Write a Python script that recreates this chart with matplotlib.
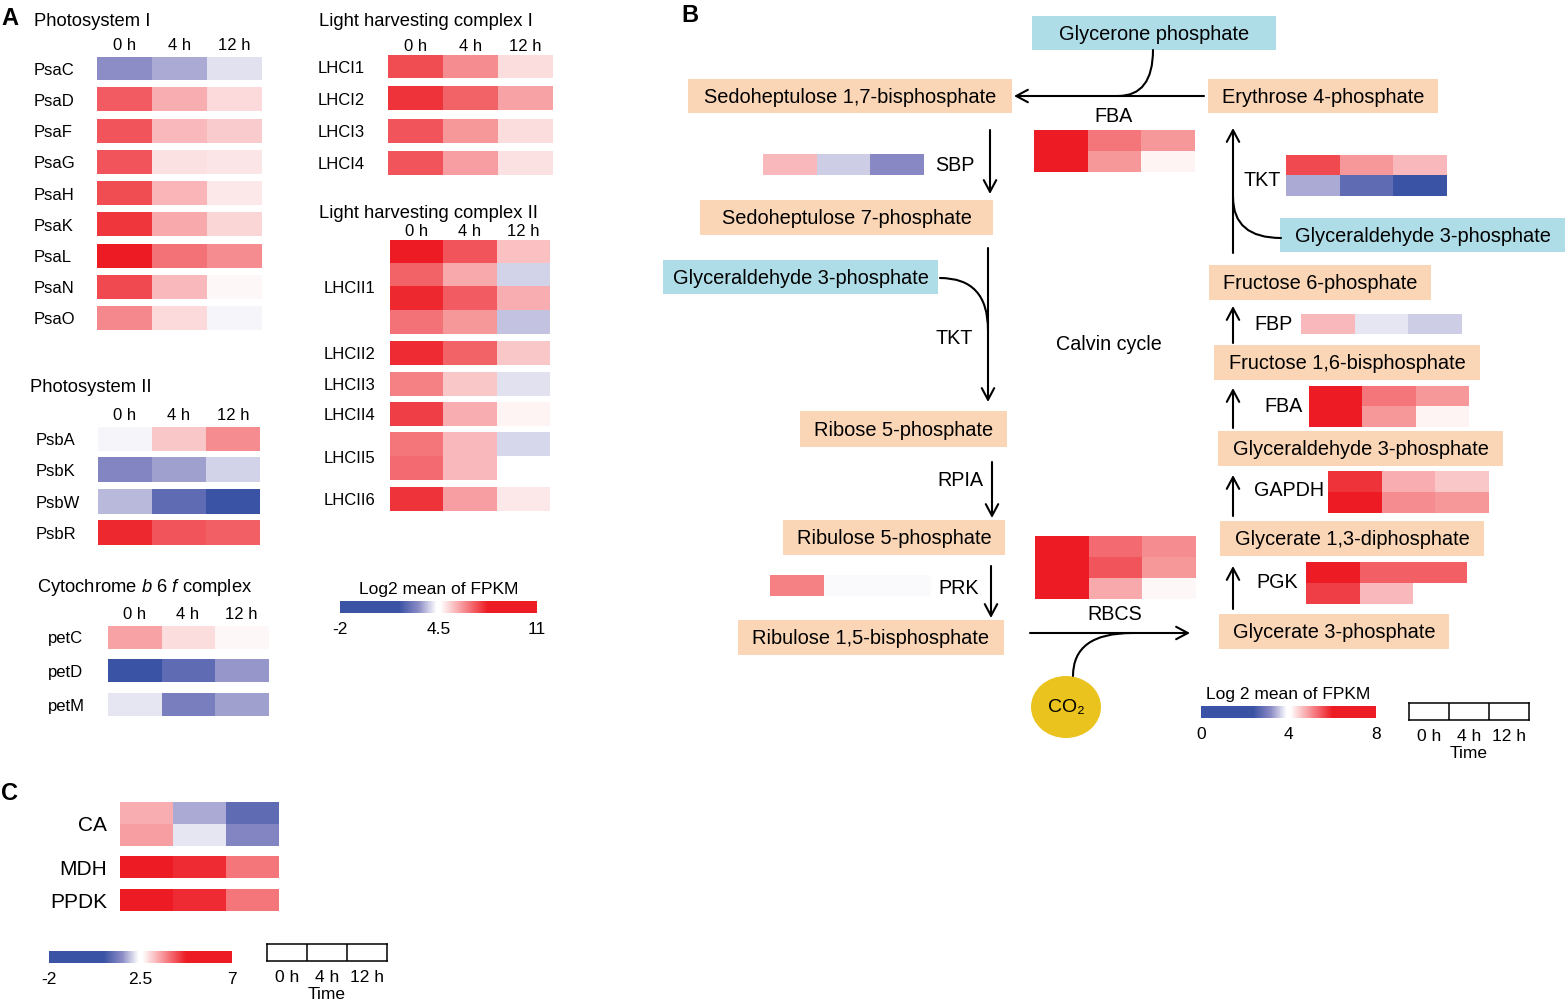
import numpy as np
import matplotlib
matplotlib.use('Agg')
import matplotlib.pyplot as plt
import matplotlib.colorbar as mcolorbar
from matplotlib.colors import LinearSegmentedColormap, Normalize
from matplotlib.patches import Rectangle, Ellipse

plt.rcParams['font.family'] = ['Liberation Sans', 'DejaVu Sans']
plt.rcParams['mathtext.fontset'] = 'custom'
plt.rcParams['mathtext.rm'] = 'Liberation Sans'
plt.rcParams['mathtext.it'] = 'Liberation Sans:italic'

W, H = 1566, 1002
times = ['0 h', '4 h', '12 h']

# ---- panel A data (log2 mean FPKM) ----
psI_genes = ['PsaC', 'PsaD', 'PsaF', 'PsaG', 'PsaH', 'PsaK', 'PsaL', 'PsaN', 'PsaO']
psI_vals = [[3.20, 3.50, 4.07], [6.88, 5.72, 5.16], [6.97, 5.57, 5.32],
            [6.97, 5.04, 5.00], [7.06, 5.63, 4.94], [7.38, 5.82, 5.19],
            [8.60, 6.56, 6.19], [7.13, 5.57, 4.72], [6.25, 5.13, 4.28]]

lhcI_genes = ['LHCI1', 'LHCI2', 'LHCI3', 'LHCI4']
lhcI_vals = [[7.06, 6.19, 5.10], [7.44, 6.75, 5.88], [6.97, 6.03, 5.10], [6.97, 5.94, 5.04]]

lhcII_genes = ['LHCII1', 'LHCII2', 'LHCII3', 'LHCII4', 'LHCII5', 'LHCII6']
lhcII_vals = [[[8.40, 6.97, 5.50], [6.75, 5.82, 3.90], [7.59, 6.88, 5.72], [6.56, 6.03, 3.75]],
              [[7.50, 6.75, 5.41]],
              [[6.35, 5.41, 4.07]],
              [[7.28, 5.72, 4.79]],
              [[6.50, 5.57, 3.95], [6.66, 5.57, 4.50]],
              [[7.44, 5.94, 4.94]]]

psII_genes = ['PsbA', 'PsbK', 'PsbW', 'PsbR']
psII_vals = [[4.28, 5.41, 6.19], [3.07, 3.40, 3.90], [3.65, 2.49, 1.90], [7.59, 6.97, 6.81]]

cyt_genes = ['petC', 'petD', 'petM']
cyt_vals = [[5.88, 5.10, 4.75], [1.90, 2.49, 3.30], [4.10, 2.88, 3.40]]

# ---- panel B data ----
fba_vals = [[7.2, 5.23, 4.94], [7.2, 4.94, 4.18]]
sbp_vals = [[4.66, 3.60, 3.16]]
tkt_vals = [[5.62, 4.94, 4.66], [3.38, 2.76, 2.40]]
fbp_vals = [[4.66, 3.76, 3.60]]
gapdh_vals = [[5.81, 4.75, 4.56], [6.20, 5.04, 4.94]]
pgk_vals = [[6.30, 5.42, 5.42], [5.71, 4.66, np.nan]]
rbcs_vals = [[7.1, 5.33, 5.04], [7.1, 5.52, 4.94], [7.1, 4.81, 4.14]]
prk_vals = [[5.14, 3.88, 3.88]]

# ---- panel C data ----
c_genes = ['CA', 'MDH', 'PPDK']
c_vals = [[[3.35, 1.81, 1.10], [3.50, 2.23, 1.51]],
          [[5.50, 4.58, 3.89]],
          [[5.60, 4.58, 3.89]]]

blue, red = '#3B53A4', '#ED1C24'
cmap = LinearSegmentedColormap.from_list(
    'bwr_sat', [(0, blue), (0.30, blue), (0.40, '#8C8CC6'), (0.49, 'white'),
                (0.51, 'white'), (0.75, red), (1, red)])
normA = Normalize(-2, 11)
normB = Normalize(0, 8)
normC = Normalize(-2, 7)

fig = plt.figure(figsize=(W / 100, H / 100), dpi=100)
fig.patch.set_facecolor('white')
ax0 = fig.add_axes([0, 0, 1, 1])
ax0.set_xlim(0, W)
ax0.set_ylim(H, 0)
ax0.axis('off')


def rect(x0, y0, x1, y1):
    return [x0 / W, 1 - y1 / H, (x1 - x0) / W, (y1 - y0) / H]


def heatmap(box, groups, norm, names=None, label_x=None, gap=0.3, cols=True,
            col_pad=3, fs=12, right_labels=False):
    x0, y0, x1, y1 = box
    ax = fig.add_axes(rect(x0, y0, x1, y1))
    y = 0
    centers = []
    for g in groups:
        g = np.atleast_2d(np.array(g, dtype=float))
        n = g.shape[0]
        ax.imshow(g, cmap=cmap, norm=norm, extent=(0, 3, y + n, y),
                  aspect='auto', interpolation='nearest')
        centers.append(y + n / 2)
        y += n + gap
    ax.set_xlim(0, 3)
    ax.set_ylim(y - gap, 0)
    for s in ax.spines.values():
        s.set_visible(False)
    if names:
        ax.set_yticks(centers, names)
        ax.tick_params(axis='y', length=0, labelsize=fs, pad=(x0 - label_x) * 0.72)
        if not right_labels:
            for t in ax.get_yticklabels():
                t.set_ha('left')
    else:
        ax.set_yticks([])
    if cols:
        ax.xaxis.tick_top()
        ax.set_xticks([0.5, 1.5, 2.5], times)
        ax.tick_params(axis='x', length=0, labelsize=fs, pad=col_pad)
    else:
        ax.set_xticks([])
    return ax


def colorbar(box, norm, ticks, labels, title, fs=12.5):
    cax = fig.add_axes(rect(*box))
    cb = mcolorbar.ColorbarBase(cax, cmap=cmap, norm=norm, orientation='horizontal')
    cb.outline.set_visible(False)
    cb.set_ticks(ticks, labels=labels)
    cax.tick_params(length=0, labelsize=fs, pad=6.5)
    if title:
        cax.set_title(title, fontsize=fs, pad=5)


def time_box(box, fs=12.5):
    tax = fig.add_axes(rect(*box))
    tax.set_xlim(0, 3)
    tax.set_ylim(0, 1)
    for v in (1, 2):
        tax.axvline(v, color='black', lw=1.1)
    for s in tax.spines.values():
        s.set_linewidth(1.1)
    tax.set_yticks([])
    tax.set_xticks([0.5, 1.5, 2.5], times)
    tax.tick_params(axis='x', length=0, labelsize=fs, pad=6.5)
    tax.set_xlabel('Time', fontsize=fs, labelpad=1.5)


# ---------------- panel A ----------------
ax0.text(1, 18, 'A', fontsize=17, fontweight='bold', va='center', ha='left')
ax0.text(34, 21, 'Photosystem I', fontsize=13.2, va='center')
heatmap((97, 57, 262, 330), psI_vals, normA, psI_genes, 34, gap=0.345, col_pad=3)
ax0.text(319, 21, 'Light harvesting complex I', fontsize=13.2, va='center')
heatmap((388, 55, 553, 175), lhcI_vals, normA, lhcI_genes, 318, gap=0.39, col_pad=1)
ax0.text(319, 213, 'Light harvesting complex II', fontsize=13.2, va='center')
heatmap((390, 240, 550, 511), lhcII_vals, normA, lhcII_genes, 324, gap=0.3, col_pad=0.5)
ax0.text(30, 388, 'Photosystem II', fontsize=13.2, va='center')
heatmap((98, 427, 260, 545), psII_vals, normA, psII_genes, 36, gap=0.3, col_pad=3)
ax0.text(37, 587, r'Cytochrome $\it{b}$ 6 $\it{f}$ complex', fontsize=13.2, va='center')
heatmap((108, 626, 268, 716), cyt_vals, normA, cyt_genes, 48, gap=0.48, col_pad=3)
colorbar((340, 601, 537, 613), normA, [-2, 4.5, 11], ['-2', '4.5', '11'], 'Log2 mean of FPKM')

# ---------------- panel C ----------------
ax0.text(1, 793, 'C', fontsize=17, fontweight='bold', va='center', ha='left')
heatmap((120, 802, 279, 911), c_vals, normC, c_genes, 107, gap=0.48, cols=False,
        fs=15, right_labels=True)
colorbar((49, 951, 232, 963), normC, [-2, 2.5, 7], ['-2', '2.5', '7'], None)
time_box((267, 944, 387, 961))

# ---------------- panel B ----------------
ax0.text(681, 15, 'B', fontsize=17, fontweight='bold', va='center', ha='left')
peach, sky = '#FBD6B6', '#AFDDE7'
metabolites = [
    ('Glycerone phosphate', (1032, 16, 1276, 50), sky),
    ('Sedoheptulose 1,7-bisphosphate', (688, 79, 1012, 113), peach),
    ('Erythrose 4-phosphate', (1208, 79, 1438, 113), peach),
    ('Sedoheptulose 7-phosphate', (700, 200, 993, 235), peach),
    ('Glyceraldehyde 3-phosphate', (663, 260, 938, 294), sky),
    ('Glyceraldehyde 3-phosphate', (1280, 218, 1565, 252), sky),
    ('Fructose 6-phosphate', (1209, 265, 1431, 300), peach),
    ('Fructose 1,6-bisphosphate', (1214, 345, 1480, 380), peach),
    ('Glyceraldehyde 3-phosphate', (1218, 431, 1503, 466), peach),
    ('Glycerate 1,3-diphosphate', (1220, 521, 1484, 556), peach),
    ('Glycerate 3-phosphate', (1219, 614, 1449, 649), peach),
    ('Ribose 5-phosphate', (800, 411, 1007, 447), peach),
    ('Ribulose 5-phosphate', (783, 520, 1005, 555), peach),
    ('Ribulose 1,5-bisphosphate', (738, 620, 1004, 655), peach),
]
for name, (x0, y0, x1, y1), c in metabolites:
    ax0.add_patch(Rectangle((x0, y0), x1 - x0, y1 - y0, facecolor=c, edgecolor='none'))
    ax0.text((x0 + x1) / 2, (y0 + y1) / 2 + 1, name, fontsize=14.4, ha='center', va='center')

ax0.add_patch(Ellipse((1066, 707), 70, 62, facecolor='#EAC31E', edgecolor='none'))
ax0.text(1066, 707, 'CO₂', fontsize=14, ha='center', va='center')

arw = dict(arrowstyle='->,head_length=0.6,head_width=0.32', lw=1.5, color='black',
           shrinkA=0, shrinkB=0, mutation_scale=14)
arrows = [((1204, 96), (1014, 96)), ((990, 130), (990, 194)), ((988, 248), (988, 402)),
          ((992, 462), (992, 518)), ((991, 566), (991, 618)), ((1030, 633), (1190, 633)),
          ((1233, 609), (1233, 566)), ((1233, 516), (1233, 475)), ((1233, 428), (1233, 388)),
          ((1233, 343), (1233, 306)), ((1233, 253), (1233, 128))]
for a, b in arrows:
    ax0.annotate('', xy=b, xytext=a, arrowprops=arw)

curves = [((1153, 50), (1118, 96), 'angle3,angleA=-90,angleB=0'),
          ((940, 278), (988, 330), 'angle3,angleA=0,angleB=90'),
          ((1281, 238), (1233, 197), 'angle3,angleA=180,angleB=90'),
          ((1073, 676), (1132, 633), 'angle3,angleA=90,angleB=0')]
for a, b, cs in curves:
    ax0.annotate('', xy=b, xytext=a,
                 arrowprops=dict(arrowstyle='-', lw=1.5, color='black', shrinkA=0,
                                 shrinkB=0, connectionstyle=cs))

enzyme_labels = [('FBA', 1114, 116), ('SBP', 955, 165), ('TKT', 954, 339), ('RPIA', 960, 480),
                 ('PRK', 959, 588), ('RBCS', 1115, 615), ('TKT', 1262, 180), ('FBP', 1273, 325),
                 ('FBA', 1284, 407), ('GAPDH', 1289, 490), ('PGK', 1277, 582),
                 ('Calvin cycle', 1109, 344)]
for t, x, y in enzyme_labels:
    ax0.text(x, y, t, fontsize=14.2, ha='center', va='center')

heatmap((1034, 130, 1195, 172), [fba_vals], normB, cols=False)
heatmap((763, 154, 924, 175), [sbp_vals], normB, cols=False)
heatmap((1286, 155, 1447, 196), [tkt_vals], normB, cols=False)
heatmap((1301, 314, 1462, 334), [fbp_vals], normB, cols=False)
heatmap((1309, 386, 1469, 427), [fba_vals], normB, cols=False)
heatmap((1328, 471, 1489, 513), [gapdh_vals], normB, cols=False)
heatmap((1306, 562, 1467, 604), [pgk_vals], normB, cols=False)
heatmap((1035, 536, 1196, 599), [rbcs_vals], normB, cols=False)
heatmap((770, 575, 931, 596), [prk_vals], normB, cols=False)

colorbar((1201, 706, 1376, 718), normB, [0, 4, 8], ['0', '4', '8'], 'Log 2 mean of FPKM')
time_box((1409, 703, 1529, 720))

fig.savefig('out.png', dpi=100, facecolor='white')
